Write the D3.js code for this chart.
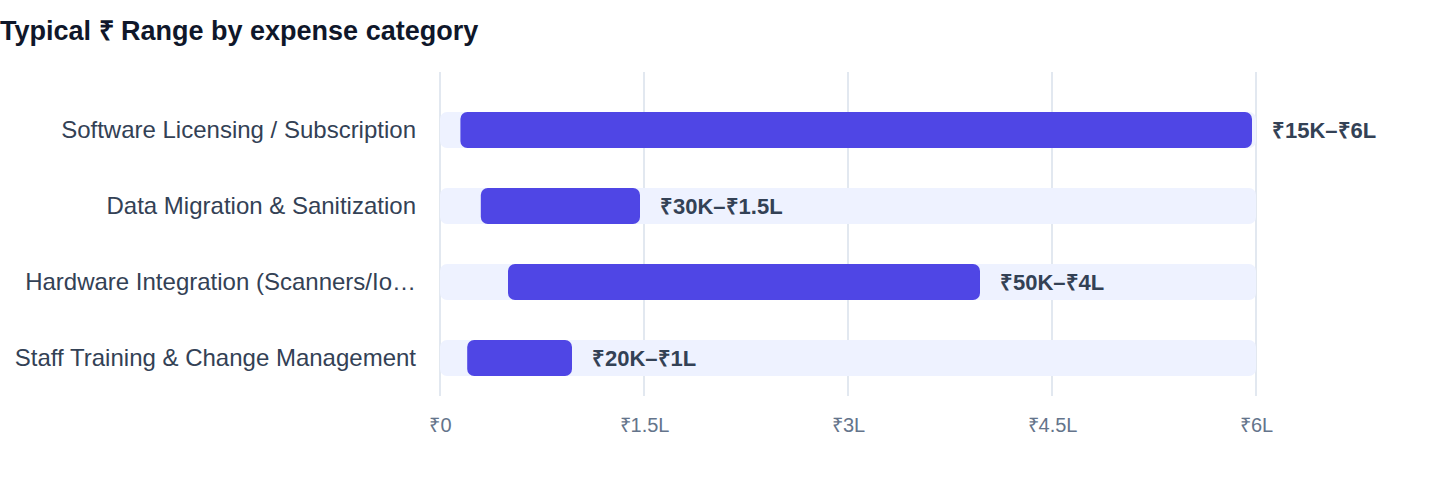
<!DOCTYPE html>
<html>
<head>
<meta charset="utf-8">
<script src="https://cdn.jsdelivr.net/npm/d3@7"></script>
<style>
  body { margin: 0; background: #fff; font-family: "Liberation Sans", Arial, Helvetica, sans-serif; }
</style>
</head>
<body>
<div id="chart"></div>
<script>
// Data
const categories = [
  'Software Licensing / Subscription',
  'Data Migration & Sanitization',
  'Hardware Integration (Scanners/IoT Devices)',
  'Staff Training & Change Management'
]
const lowValues = [15000, 30000, 50000, 20000]
const highValues = [600000, 150000, 400000, 100000]
const rangeLabels = ['₹15K–₹6L', '₹30K–₹1.5L', '₹50K–₹4L', '₹20K–₹1L']
const tickValues = [0, 150000, 300000, 450000, 600000]
const tickLabels = ['₹0', '₹1.5L', '₹3L', '₹4.5L', '₹6L']

const data = categories.map((c, i) => ({
  name: c, low: lowValues[i], high: highValues[i], label: rangeLabels[i]
}))

// SVG
const width = 1440, height = 484
const svg = d3.select('#chart').append('svg')
  .attr('width', width)
  .attr('height', height)

svg.append('text')
  .attr('x', 0)
  .attr('y', 40)
  .attr('font-size', '27px')
  .attr('font-weight', 'bold')
  .attr('fill', '#0f172a')
  .text('Typical ₹ Range by expense category')

const margin = {top: 72, left: 440, right: 184, bottom: 88}
const graphWidth = width - margin.left - margin.right
const graphHeight = height - margin.top - margin.bottom

const g = svg.append('g')
  .attr('transform', `translate(${margin.left}, ${margin.top})`)

// Scales
const x = d3.scaleLinear().domain([0, 600000]).range([0, graphWidth])
const y = d3.scaleBand().domain(categories).range([40, 344])
const barH = 36

// Grid lines
g.selectAll('line.grid')
  .data(tickValues)
  .enter().append('line')
  .attr('class', 'grid')
  .attr('x1', d => x(d)).attr('x2', d => x(d))
  .attr('y1', 0).attr('y2', graphHeight)
  .attr('stroke', '#e2e8f0')
  .attr('stroke-width', 2)

// Axis
const xAxis = d3.axisBottom(x)
  .tickValues(tickValues)
  .tickFormat((d, i) => tickLabels[i])
  .tickSize(0)
  .tickPadding(22)
const xAxisGroup = g.append('g')
  .attr('transform', `translate(0, ${graphHeight})`)
  .call(xAxis)
xAxisGroup.select('.domain').remove()
xAxisGroup.selectAll('text')
  .attr('font-size', '20px')
  .attr('font-family', '"Liberation Sans", Arial, sans-serif')
  .attr('fill', '#64748b')

// Category labels (truncated)
function truncate(textSel, maxW) {
  textSel.each(function(d) {
    const t = d3.select(this)
    let s = d
    t.text(s)
    while (this.getComputedTextLength() > maxW && s.length > 1) {
      s = s.slice(0, -1)
      t.text(s.trimEnd() + '…')
    }
  })
}
g.selectAll('text.cat')
  .data(categories)
  .enter().append('text')
  .attr('class', 'cat')
  .attr('x', -24)
  .attr('y', d => y(d) + barH / 2)
  .attr('dy', '0.35em')
  .attr('text-anchor', 'end')
  .attr('font-size', '24px')
  .attr('fill', '#334155')
  .call(truncate, 403)

// Tracks
g.selectAll('rect.track')
  .data(data)
  .enter().append('rect')
  .attr('class', 'track')
  .attr('x', x(0))
  .attr('y', d => y(d.name))
  .attr('width', x(600000) - x(0))
  .attr('height', barH)
  .attr('rx', 7)
  .attr('fill', '#eef2ff')

// Range bars
g.selectAll('rect.bar')
  .data(data)
  .enter().append('rect')
  .attr('class', 'bar')
  .attr('x', d => x(d.low))
  .attr('y', d => y(d.name))
  .attr('width', d => x(d.high) - x(d.low) - 4)
  .attr('height', barH)
  .attr('rx', 7)
  .attr('fill', '#4f46e5')

// Range labels
g.selectAll('text.val')
  .data(data)
  .enter().append('text')
  .attr('class', 'val')
  .attr('x', d => x(d.high) + 16)
  .attr('y', d => y(d.name) + barH / 2)
  .attr('dy', '0.35em')
  .attr('font-size', '22px')
  .attr('font-weight', 'bold')
  .attr('fill', '#334155')
  .text(d => d.label)
</script>
</body>
</html>
